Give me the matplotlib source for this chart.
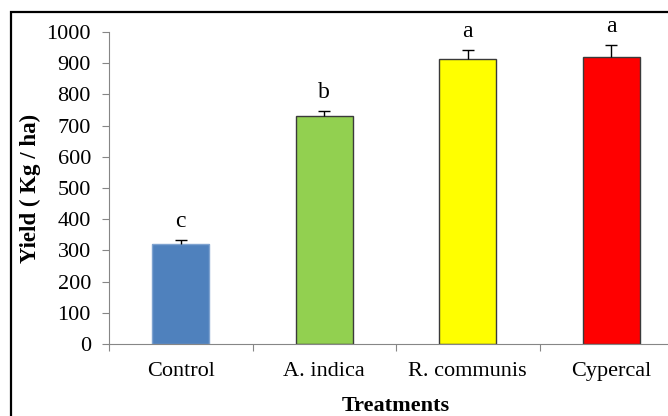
import matplotlib
matplotlib.use('Agg')
import matplotlib.pyplot as plt
from matplotlib.patches import Rectangle

treatments = ['Control', 'A. indica', 'R. communis', 'Cypercal']
yield_mean = [320, 732, 913, 920]
yield_err = [13, 14, 29, 37]
letters = ['c', 'b', 'a', 'a']
bar_colors = ['#4F81BD', '#92D050', '#FFFF00', '#FF0000']
edge_colors = ['#7FA3D0', '#3A3A3A', '#3A3A3A', '#3A3A3A']
y_ticks = list(range(0, 1001, 100))

plt.rcParams['font.family'] = ['Liberation Serif', 'DejaVu Serif']

W, H = 668, 416
fig = plt.figure(figsize=(W / 100, H / 100), dpi=100)

# chart is cropped on the right, so the plot area runs past the figure edge
ax = fig.add_axes([109 / W, 72 / H, 574 / W, 312 / H])

x = range(len(treatments))
ax.bar(x, yield_mean, width=0.4, color=bar_colors, edgecolor=edge_colors,
       linewidth=1, zorder=2)
eb = ax.errorbar(x, yield_mean, yerr=[[0] * 4, yield_err], fmt='none',
                 ecolor='black', elinewidth=1, capsize=4, capthick=1, zorder=3)
# only the plus side is shown
eb[1][0].set_visible(False)

for i, (m, e, lt) in enumerate(zip(yield_mean, yield_err, letters)):
    ax.text(i, m + e + 26, lt, ha='center', va='bottom', fontsize=17)

ax.set_xlim(-0.5, len(treatments) - 0.5)
ax.set_ylim(0, 1000)
ax.set_yticks(y_ticks)
ax.tick_params(axis='y', labelsize=16, length=5, color='#868686', pad=8)

# category ticks sit between bars, labels under the bars
ax.set_xticks([i - 0.5 for i in range(len(treatments) + 1)])
ax.set_xticklabels([])
ax.set_xticks(list(x), minor=True)
ax.set_xticklabels(treatments, minor=True, fontsize=16)
ax.tick_params(axis='x', which='major', length=5, color='#868686')
ax.tick_params(axis='x', which='minor', length=0, pad=13)

for s in ['top', 'right']:
    ax.spines[s].set_visible(False)
for s in ['left', 'bottom']:
    ax.spines[s].set_color('#868686')

ax.set_ylabel('Yield ( Kg / ha)', fontsize=16.5, fontweight='bold', labelpad=4)
ax.set_xlabel('Treatments', fontsize=16, fontweight='bold', labelpad=11)

# outer chart border (only left and top visible in the crop)
fig.add_artist(Rectangle((10.5 / W, -0.5), 2, 1.5 - 12 / H,
                         transform=fig.transFigure, fill=False,
                         edgecolor='black', linewidth=1.6))

fig.savefig('out.png', dpi=100)
